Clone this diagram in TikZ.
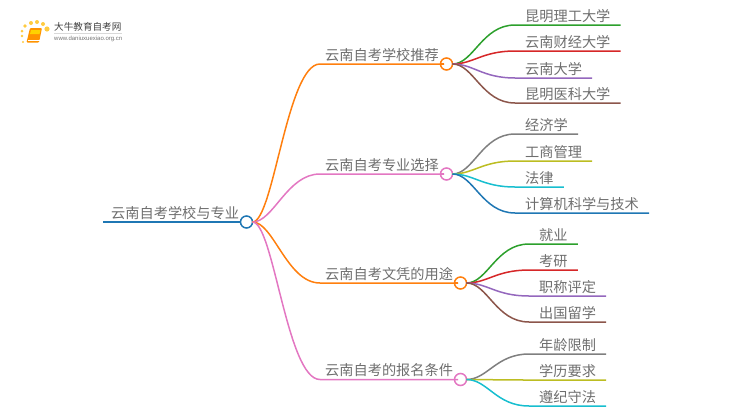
\documentclass[tikz,border=0pt]{standalone}
\usepackage{fontspec}
\setmainfont{Noto Sans CJK SC}
\setsansfont{Liberation Sans}
\definecolor{lineorange}{HTML}{FF7F0E}
\definecolor{linepink}{HTML}{E377C2}
\definecolor{lineblue}{HTML}{1F77B4}
\definecolor{linegreen}{HTML}{2CA02C}
\definecolor{linered}{HTML}{D62728}
\definecolor{linepurple}{HTML}{9467BD}
\definecolor{linebrown}{HTML}{8C564B}
\definecolor{linegray}{HTML}{7F7F7F}
\definecolor{lineolive}{HTML}{BCBD22}
\definecolor{linecyan}{HTML}{17BECF}
\definecolor{textgray}{HTML}{6E6E6E}
\tikzset{
    topic/.style={anchor=south west, inner xsep=0pt, inner ysep=2.5pt, font=\fontsize{14.2}{16}\selectfont, text=textgray},
    hub/.style={circle, draw=#1, fill=white, line width=1.5pt, minimum size=12pt, inner sep=0pt, outer sep=0pt},
    wire/.style={line width=1.5pt},
}
\newcommand{\spread}[3]{\draw[wire, #1] (#2.east) .. controls +(21,0) and +(-33,0) .. (#3.south west) -- (#3.south east);}
\begin{document}
\begin{tikzpicture}[x=1pt, y=-1pt]
        \useasboundingbox (0,0) rectangle (750,410);

        % Logo
        \foreach \dotx/\doty/\dotr in {25/26/1.8, 31/23/2, 37/22/2, 43/24/2, 47/29/2.6, 22/31/1.5, 22/36/1.3, 23/42/1.1}
            \fill[orange!55!yellow, opacity=0.75] (\dotx,\doty) circle (\dotr);
        \fill[orange!85!yellow, rounded corners=1pt] (30,28) -- (42,28) -- (39,42.5) -- (26.5,42.5) -- cycle;
        \fill[orange!35!yellow] (31,30) -- (40.5,30) -- (39.5,34) -- (30,34) -- cycle;
        \draw[white, line width=0.5pt] (27.5,40) -- (39.5,40);
        \draw[black!15, line width=0.5pt] (54,33) -- (122,33);
        \node[anchor=west, inner sep=0pt, text=black!75, font=\fontsize{9.6}{10}\selectfont] (logotitle) at (54,27) {大牛教育自考网};
        \node[anchor=west, inner sep=0pt, text=black!55, font=\sffamily\fontsize{6}{7}\selectfont] (logourl) at (54,38.5) {www.daniuxuexiao.org.cn};

        % Root
        \node[topic, inner xsep=8pt] (root) at (103,222) {云南自考学校与专业};
        \node[hub=lineblue] (hubroot) at (246.5,222) {};

        % Second level
        \node[topic, inner xsep=5pt] (school) at (320,64) {云南自考学校推荐};
        \node[topic, inner xsep=5pt] (major) at (320,174) {云南自考专业选择};
        \node[topic, inner xsep=5pt] (diploma) at (320,283) {云南自考文凭的用途};
        \node[topic, inner xsep=5pt] (signup) at (320,379.5) {云南自考的报名条件};
        \node[hub=lineorange] (hubschool) at (446.5,64) {};
        \node[hub=linepink] (hubmajor) at (446.5,174) {};
        \node[hub=lineorange] (hubdiploma) at (460.5,283) {};
        \node[hub=linepink] (hubsignup) at (460.5,379.5) {};

        % Leaves, schools
        \node[topic, inner xsep=10pt] (kmlg) at (515,25) {昆明理工大学};
        \node[topic, inner xsep=10pt] (yncj) at (515,51) {云南财经大学};
        \node[topic, inner xsep=10pt] (ynu) at (515,78) {云南大学};
        \node[topic, inner xsep=10pt] (kmyk) at (515,103) {昆明医科大学};

        % Leaves, majors
        \node[topic, inner xsep=10pt] (jjx) at (515,134) {经济学};
        \node[topic, inner xsep=10pt] (gsgl) at (515,161) {工商管理};
        \node[topic, inner xsep=10pt] (fl) at (515,187) {法律};
        \node[topic, inner xsep=10pt] (jsj) at (515,213) {计算机科学与技术};

        % Leaves, uses
        \node[topic, inner xsep=10pt] (jy) at (529,244) {就业};
        \node[topic, inner xsep=10pt] (ky) at (529,270) {考研};
        \node[topic, inner xsep=10pt] (zcpd) at (529,296) {职称评定};
        \node[topic, inner xsep=10pt] (cglx) at (529,322) {出国留学};

        % Leaves, conditions
        \node[topic, inner xsep=10pt] (nlxz) at (529,354) {年龄限制};
        \node[topic, inner xsep=10pt] (xlyq) at (529,380) {学历要求};
        \node[topic, inner xsep=10pt] (zjsf) at (529,406) {遵纪守法};

        % Connectors
        \draw[line width=2pt, lineblue] (root.south west) -- (hubroot);
        \spread{lineorange}{hubroot}{school}
        \spread{linepink}{hubroot}{major}
        \spread{lineorange}{hubroot}{diploma}
        \spread{linepink}{hubroot}{signup}
        \draw[wire, lineorange] (school.south east) -- (hubschool);
        \draw[wire, linepink] (major.south east) -- (hubmajor);
        \draw[wire, lineorange] (diploma.south east) -- (hubdiploma);
        \draw[wire, linepink] (signup.south east) -- (hubsignup);
        \spread{linegreen}{hubschool}{kmlg}
        \spread{linered}{hubschool}{yncj}
        \spread{linepurple}{hubschool}{ynu}
        \spread{linebrown}{hubschool}{kmyk}
        \spread{linegray}{hubmajor}{jjx}
        \spread{lineolive}{hubmajor}{gsgl}
        \spread{linecyan}{hubmajor}{fl}
        \spread{lineblue}{hubmajor}{jsj}
        \spread{linegreen}{hubdiploma}{jy}
        \spread{linered}{hubdiploma}{ky}
        \spread{linepurple}{hubdiploma}{zcpd}
        \spread{linebrown}{hubdiploma}{cglx}
        \spread{linegray}{hubsignup}{nlxz}
        \spread{lineolive}{hubsignup}{xlyq}
        \spread{linecyan}{hubsignup}{zjsf}
    \end{tikzpicture}
\end{document}
